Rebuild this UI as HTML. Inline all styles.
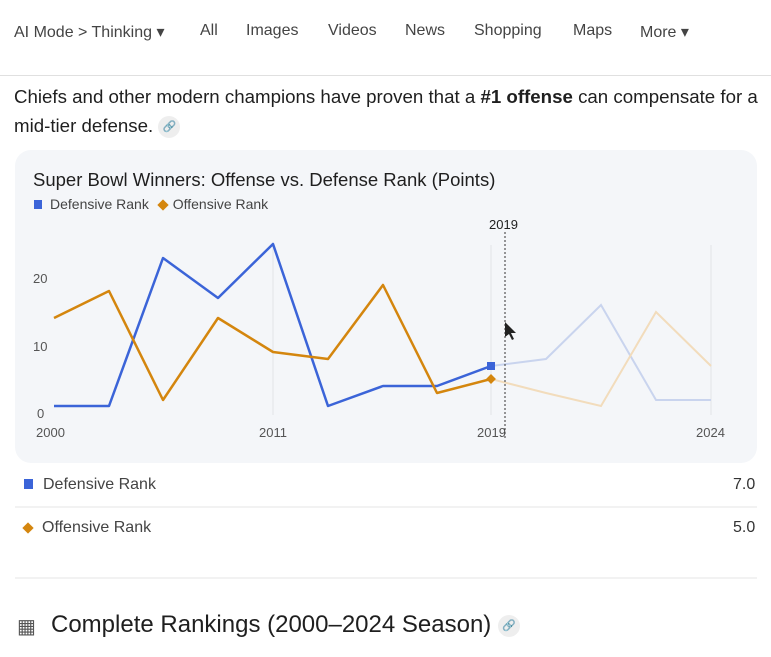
<!DOCTYPE html>
<html><head><meta charset="utf-8"><style>
body{margin:0;width:771px;height:657px;background:#fff;font-family:"Liberation Sans",sans-serif;overflow:hidden;position:relative;color:#1f1f1f}
.t{position:absolute;white-space:nowrap}
</style></head><body>
<div class="t" style="left:14px;top:22px;font-size:16px;color:#444">AI Mode &gt; Thinking ▾</div>
<div class="t" style="left:200px;top:22px;font-size:16px;color:#444">All</div>
<div class="t" style="left:246px;top:22px;font-size:16px;color:#444">Images</div>
<div class="t" style="left:328px;top:22px;font-size:16px;color:#444">Videos</div>
<div class="t" style="left:405px;top:22px;font-size:16px;color:#444">News</div>
<div class="t" style="left:474px;top:22px;font-size:16px;color:#444">Shopping</div>
<div class="t" style="left:573px;top:22px;font-size:16px;color:#444">Maps</div>
<div class="t" style="left:640px;top:22px;font-size:16px;color:#444">More ▾</div>
<div style="position:absolute;left:0;top:75px;width:771px;height:1px;background:#e0e0e0"></div>
<div class="t" style="left:14px;top:82px;font-size:18.7px;line-height:29px;white-space:normal;width:755px">Chiefs and other modern champions have proven that a <b>#1 offense</b> can compensate for a mid-tier defense. <span style="display:inline-block;width:22px;height:22px;border-radius:11px;background:#eee;font-size:11px;text-align:center;line-height:22px;vertical-align:middle">🔗</span></div>
<div style="position:absolute;left:15px;top:150px;width:742px;height:313px;background:#f4f6f9;border-radius:16px"></div>
<div class="t" style="left:33px;top:169px;font-size:18.5px">Super Bowl Winners: Offense vs. Defense Rank (Points)</div>
<div class="t" style="left:34px;top:196px;font-size:14px;color:#444"><span style="display:inline-block;width:8px;height:9px;background:#3b64d8;margin-right:8px"></span>Defensive Rank <span style="display:inline-block;width:8px;height:8px;background:#d4860e;transform:rotate(45deg);margin:0 6px 0 6px"></span>Offensive Rank</div>
<svg style="position:absolute;left:0;top:0" width="771" height="657">
<g stroke="#e2e4e8" stroke-width="1"><line x1="273" y1="245" x2="273" y2="415"/><line x1="491" y1="245" x2="491" y2="415"/><line x1="711" y1="245" x2="711" y2="415"/></g>
<g font-family="Liberation Sans" font-size="13" fill="#555">
<text x="33" y="283">20</text><text x="33" y="351">10</text><text x="37" y="418">0</text>
<text x="36" y="437">2000</text><text x="259" y="437">2011</text><text x="477" y="437">2019</text><text x="696" y="437">2024</text>
<text x="489" y="229" fill="#222">2019</text></g>
<polyline fill="none" stroke="#c9d4ee" stroke-width="2" points="491,366 546,359 601,305 656,400 711,400"/>
<polyline fill="none" stroke="#f2dcbc" stroke-width="2" points="491,379 546,393 601,406 656,312 711,366"/>
<polyline fill="none" stroke="#3b64d8" stroke-width="2.5" stroke-linejoin="round" points="54,406 109,406 163,258 218,298 273,244 328,406 383,386 437,386 491,366"/>
<polyline fill="none" stroke="#d4860e" stroke-width="2.5" stroke-linejoin="round" points="54,318 109,291 163,400 218,318 273,352 328,359 383,285 437,393 491,379"/>
<rect x="487" y="362" width="8" height="8" fill="#3b64d8"/>
<rect x="487.5" y="375.5" width="7" height="7" fill="#d4860e" transform="rotate(45 491 379)"/>
<line x1="505" y1="232" x2="505" y2="440" stroke="#333" stroke-dasharray="2,2"/>
<path d="M505,322 l0,15 l4,-3 l3,6 l2,-1 l-3,-6 l5,0z" fill="#222"/>
<line x1="15" y1="507" x2="757" y2="507" stroke="#e6e6e6"/>
<line x1="15" y1="578" x2="757" y2="578" stroke="#e6e6e6"/>
</svg>
<div class="t" style="left:24px;top:476px;font-size:16px;color:#444"><span style="display:inline-block;width:9px;height:10px;background:#3b64d8;margin-right:10px"></span>Defensive Rank</div>
<div class="t" style="left:733px;top:476px;font-size:16px;color:#333">7.0</div>
<div class="t" style="left:24px;top:519px;font-size:16px;color:#444"><span style="display:inline-block;width:8px;height:8px;background:#d4860e;transform:rotate(45deg);margin-right:10px"></span>Offensive Rank</div>
<div class="t" style="left:733px;top:519px;font-size:16px;color:#333">5.0</div>
<div class="t" style="left:17px;top:614px;font-size:20px;color:#555">▦</div>
<div class="t" style="left:51px;top:611px;font-size:24px">Complete Rankings (2000–2024 Season) <span style="display:inline-block;width:22px;height:22px;border-radius:11px;background:#eee;font-size:11px;text-align:center;line-height:22px;vertical-align:middle">🔗</span></div>
</body></html>
